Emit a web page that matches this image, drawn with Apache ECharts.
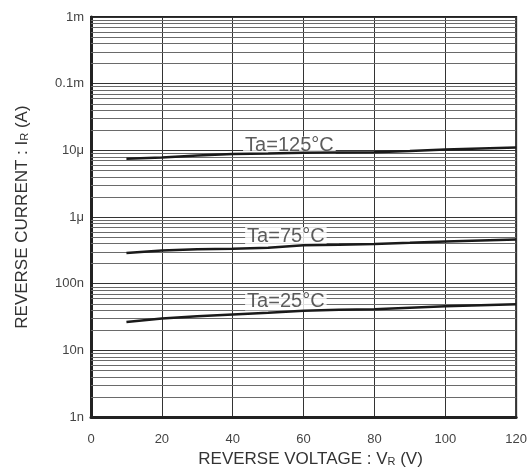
<!DOCTYPE html>
<html><head><meta charset="utf-8">
<script src="https://cdn.jsdelivr.net/npm/echarts@6/dist/echarts.min.js"></script>
<style>html,body{margin:0;padding:0;background:#fff}#c{width:530px;height:473px}</style>
</head><body><div id="c"></div>
<script>
const voltage = [10, 20, 30, 40, 50, 60, 70, 80, 90, 100, 110, 120];
const ir125 = [7.47e-6, 7.8e-6, 8.4e-6, 8.8e-6, 8.95e-6, 9.2e-6, 9.3e-6, 9.4e-6, 9.8e-6, 1.03e-5, 1.07e-5, 1.1e-5];
const ir75 = [2.9e-7, 3.14e-7, 3.28e-7, 3.36e-7, 3.47e-7, 3.78e-7, 3.85e-7, 3.94e-7, 4.12e-7, 4.31e-7, 4.46e-7, 4.61e-7];
const ir25 = [2.67e-8, 3.02e-8, 3.24e-8, 3.47e-8, 3.67e-8, 3.93e-8, 4.06e-8, 4.14e-8, 4.36e-8, 4.58e-8, 4.74e-8, 4.91e-8];
const yTickValues = [1e-9, 1e-8, 1e-7, 1e-6, 1e-5, 1e-4, 1e-3];
const yTickLabels = ['1n', '10n', '100n', '1μ', '10μ', '0.1m', '1m'];
const curveLabels = ['Ta=125°C', 'Ta=75°C', 'Ta=25°C'];
const labelX = [56, 55, 55];
const labelY = [1.18e-5, 5.2e-7, 5.4e-8];
const minorMultipliers = [2, 3, 4, 5, 6, 7, 8, 9];
const xRange = [0, 120];

const FONT = '"Liberation Sans", Arial, sans-serif';
const zip = (xs, ys) => xs.map((x, i) => [x, ys[i]]);

const minorLines = [];
for (let d = 0; d < yTickValues.length - 1; d++) {
  for (const m of minorMultipliers) {
    const v = yTickValues[d] * m;
    minorLines.push({ coords: [[xRange[0], v], [xRange[1], v]] });
  }
}

function yLabel(v) {
  for (let i = 0; i < yTickValues.length; i++) {
    if (Math.abs(Math.log10(v) - Math.log10(yTickValues[i])) < 1e-6) return yTickLabels[i];
  }
  return '';
}

const curveStyle = { color: '#1a1a1a', width: 2.5 };
const chart = echarts.init(document.getElementById('c'), null, { renderer: 'canvas' });
chart.setOption({
  animation: false,
  backgroundColor: '#fff',
  grid: { left: 91, right: 4, top: 17, bottom: 50, show: true, borderColor: '#222', borderWidth: 2, backgroundColor: 'transparent' },
  xAxis: {
    type: 'value', min: xRange[0], max: xRange[1], interval: 20,
    axisLine: { show: true, lineStyle: { color: '#222', width: 3 } },
    axisTick: { show: false },
    axisLabel: { color: '#444', fontSize: 13, fontFamily: FONT, margin: 16 },
    splitLine: { show: true, lineStyle: { color: '#333', width: 1 } },
    name: 'REVERSE VOLTAGE : V{s|R} (V)',
    nameLocation: 'middle', nameGap: 33,
    nameTextStyle: { color: '#333', fontSize: 17, fontFamily: FONT, padding: [0, 0, 0, 14],
      rich: { s: { fontSize: 11, fontFamily: FONT, color: '#333', padding: [5, 0, 0, 0] } } }
  },
  yAxis: {
    type: 'log', logBase: 10, min: 1e-9, max: 1e-3,
    axisLine: { show: true, lineStyle: { color: '#222', width: 3 } },
    axisTick: { show: false },
    minorTick: { show: false },
    axisLabel: { color: '#444', fontSize: 13, fontFamily: FONT, margin: 7, formatter: yLabel },
    splitLine: { show: true, lineStyle: { color: '#333', width: 1 } },
    name: 'REVERSE CURRENT : I{s|R} (A)',
    nameLocation: 'middle', nameGap: 60,
    nameTextStyle: { color: '#333', fontSize: 17, fontFamily: FONT,
      rich: { s: { fontSize: 11, fontFamily: FONT, color: '#333', padding: [5, 0, 0, 0] } } }
  },
  series: [
    {
      type: 'lines', coordinateSystem: 'cartesian2d', silent: true, z: 1,
      lineStyle: { color: '#6a6a6a', width: 1, opacity: 1 },
      data: minorLines
    },
    { type: 'line', data: zip(voltage, ir125), showSymbol: false, lineStyle: curveStyle, z: 6 },
    { type: 'line', data: zip(voltage, ir75), showSymbol: false, lineStyle: curveStyle, z: 6 },
    { type: 'line', data: zip(voltage, ir25), showSymbol: false, lineStyle: curveStyle, z: 6 },
    {
      type: 'scatter', z: 5, symbolSize: 2, itemStyle: { color: 'rgba(255,255,255,0)' },
      data: labelX.map((x, i) => [x, labelY[i]]),
      label: { show: true, position: 'inside', formatter: p => curveLabels[p.dataIndex],
        color: '#333', fontSize: 20, lineHeight: 18, fontFamily: FONT, backgroundColor: '#fff', padding: [0, 2] }
    }
  ]
});
</script></body></html>
